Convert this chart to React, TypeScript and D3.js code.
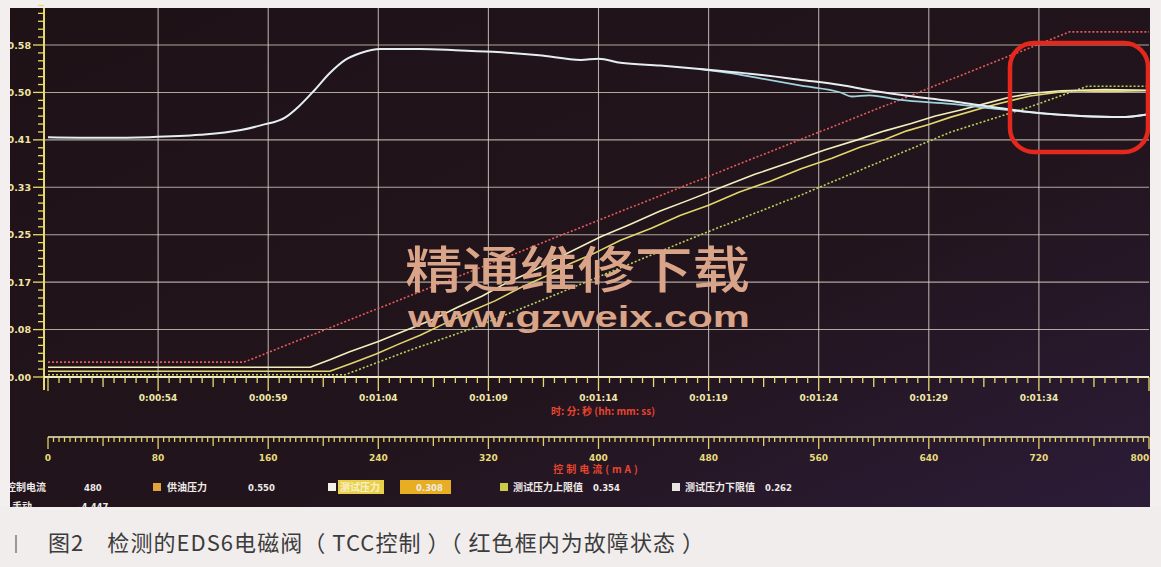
import React from "react";
import * as d3 from "d3";

const W = 1161;
const H = 567;

// Time axis (seconds) and current axis (mA) share the same horizontal span
const timeDomain: [number, number] = [49, 99];
const currentDomain: [number, number] = [0, 800];
const timeTickValues = [54, 59, 64, 69, 74, 79, 84, 89, 94];
const currentTickValues = [0, 80, 160, 240, 320, 400, 480, 560, 640, 720, 800];
const pressureTickValues = [0, 0.0829, 0.1657, 0.2486, 0.3314, 0.4143, 0.4971, 0.58];
const pressureTickLabels = ["0.00", "0.08", "0.17", "0.25", "0.33", "0.41", "0.50", "0.58"];

// [time s, pressure] samples
const supplyPressure: [number, number][] = [
  [49.0, 0.419], [51.5, 0.418], [53.6, 0.419], [55.9, 0.423], [57.7, 0.431],
  [58.7, 0.44], [59.8, 0.454], [60.4, 0.473], [61.1, 0.501], [61.8, 0.531],
  [62.5, 0.554], [63.2, 0.566], [64.1, 0.573], [65.9, 0.573], [67.5, 0.571],
  [69.2, 0.568], [71.3, 0.562], [73.2, 0.554], [74.0, 0.556], [75.0, 0.549],
  [76.8, 0.544], [78.6, 0.538], [81.3, 0.528], [83.2, 0.519], [85.0, 0.51],
  [86.3, 0.501], [87.7, 0.493], [90.0, 0.482], [92.2, 0.47], [94.0, 0.461],
  [95.9, 0.456], [97.7, 0.454], [99.0, 0.459],
];
const supplyPressureB: [number, number][] = [
  [78.6, 0.538], [80.0, 0.531], [81.3, 0.522], [83.2, 0.509], [85.0, 0.497],
  [85.5, 0.49], [86.3, 0.492], [87.7, 0.484], [90.0, 0.477], [92.2, 0.468],
  [94.0, 0.461], [95.9, 0.456], [97.7, 0.454], [99.0, 0.459],
];
const testPressureA: [number, number][] = [
  [49.0, 0.017], [60.9, 0.017], [61.8, 0.03], [62.7, 0.044], [64.0, 0.062],
  [65.4, 0.084], [66.5, 0.101], [67.6, 0.122], [68.7, 0.141], [69.8, 0.164],
  [70.9, 0.183], [72.0, 0.205], [73.0, 0.224], [74.1, 0.245], [75.4, 0.266],
  [76.8, 0.29], [78.1, 0.309], [79.5, 0.33], [81.1, 0.354], [82.7, 0.375],
  [84.3, 0.397], [85.9, 0.416], [87.0, 0.43], [88.2, 0.443], [89.3, 0.456],
  [90.4, 0.466], [91.6, 0.478], [92.7, 0.489], [93.8, 0.496], [95.0, 0.5],
  [97.0, 0.502], [99.0, 0.501],
];
const testPressureB: [number, number][] = [
  [49.0, 0.01], [61.8, 0.01], [62.8, 0.024], [63.9, 0.04], [64.9, 0.057],
  [65.9, 0.073], [67.1, 0.095], [68.2, 0.115], [69.3, 0.133], [70.4, 0.155],
  [71.6, 0.176], [72.7, 0.198], [73.8, 0.216], [75.0, 0.239], [76.4, 0.26],
  [77.7, 0.282], [79.0, 0.3], [80.4, 0.323], [81.8, 0.342], [83.2, 0.364],
  [84.6, 0.382], [85.9, 0.402], [87.0, 0.415], [88.0, 0.43], [89.0, 0.441],
  [90.0, 0.454], [91.8, 0.474], [93.6, 0.491], [95.4, 0.5], [97.0, 0.499],
  [99.0, 0.5],
];
const limitPressure: [number, number][] = [
  [49.0, 0.004], [62.5, 0.004], [65.3, 0.045], [68.2, 0.084], [72.3, 0.148],
  [78.6, 0.248], [83.2, 0.318], [90.0, 0.428], [93.6, 0.472], [96.2, 0.508],
  [99.0, 0.508],
];
const controlCurrent: [number, number][] = [
  [49.0, 0.026], [57.9, 0.026], [95.4, 0.603], [99.0, 0.603],
];

const legendNames = ["控制电流", "供油压力", "测试压力", "测试压力上限值", "测试压力下限值"];
const legendValues = ["480", "0.550", "0.308", "0.354", "0.262"];
const legendSwatches = ["none", "#e2a43a", "#f2f0e6", "#c8cc48", "#e8e6e2"];

const caption = "图2　检测的EDS6电磁阀（ TCC控制 ）（ 红色框内为故障状态 ）";

const x = d3.scaleLinear().domain(timeDomain).range([48, 1149]);
const xmA = d3.scaleLinear().domain(currentDomain).range([48, 1149]);
const y = d3.scaleLinear().domain([0, 0.58]).range([377, 45]);

const line = d3
  .line<[number, number]>()
  .x((d) => x(d[0]))
  .y((d) => y(d[1]));
const smoothLine = d3
  .line<[number, number]>()
  .x((d) => x(d[0]))
  .y((d) => y(d[1]))
  .curve(d3.curveMonotoneX);

const fmtTime = (s: number) => {
  const m = Math.floor(s / 60);
  const ss = Math.round(s % 60);
  return `0:${String(m).padStart(2, "0")}:${String(ss).padStart(2, "0")}`;
};

const tickFont = "'DejaVu Sans', sans-serif";
const cjk = "'Noto Sans CJK SC', sans-serif";

export default function App() {
  const yMinor = d3.range(0, 0.66, 0.58 / 7 / 6);
  const tMinor = d3.range(49, 99.01, 0.5);
  const mAMinor = d3.range(0, 800.1, 4);
  const legendX = [6, 167, 340, 513, 685];
  const swatchX = [0, 153, 328, 500, 672];
  const valueX = [84, 248, 402, 593, 765];

  return (
    <div style={{ position: "absolute", left: 0, top: 0 }}>
      <svg width={W} height={H} viewBox={`0 0 ${W} ${H}`} style={{ display: "block" }}>
        <defs>
          <linearGradient id="bg" x1="0" y1="0" x2="1" y2="1">
            <stop offset="0" stopColor="#1e1217" />
            <stop offset="0.6" stopColor="#22141c" />
            <stop offset="1" stopColor="#2c1c38" />
          </linearGradient>
          <clipPath id="plot">
            <rect x={44} y={8} width={1105} height={372} />
          </clipPath>
        </defs>

        <rect x={0} y={0} width={W} height={H} fill="#f3efee" />
        <rect x={10} y={8} width={1140} height={499} fill="url(#bg)" />

        {/* grid */}
        {pressureTickValues.slice(1).map((v, i) => (
          <line key={`h${i}`} x1={44} x2={1149} y1={y(v)} y2={y(v)} stroke="#d2cdbf" strokeWidth={1.1} opacity={0.8} />
        ))}
        {currentTickValues.slice(1, -1).map((v, i) => (
          <line key={`v${i}`} x1={xmA(v)} x2={xmA(v)} y1={8} y2={377} stroke="#d8d2cc" strokeWidth={1.1} opacity={0.8} />
        ))}

        {/* series */}
        <g clipPath="url(#plot)" fill="none" strokeLinejoin="round">
          <path d={line(controlCurrent) ?? ""} stroke="#e65a5a" strokeWidth={1.6} strokeDasharray="2 2" />
          <path d={line(limitPressure) ?? ""} stroke="#b9d25c" strokeWidth={1.6} strokeDasharray="2 2" />
          <path d={line(testPressureB) ?? ""} stroke="#e3d66e" strokeWidth={1.6} />
          <path d={line(testPressureA) ?? ""} stroke="#f2efbe" strokeWidth={1.6} />
          <path d={smoothLine(supplyPressureB) ?? ""} stroke="#9fd4df" strokeWidth={1.8} />
          <path d={smoothLine(supplyPressure) ?? ""} stroke="#e6eef0" strokeWidth={2} />
        </g>

        {/* pressure ruler */}
        <line x1={44} x2={44} y1={8} y2={390} stroke="#e8da6c" strokeWidth={2} />
        {yMinor.map((v, i) => (
          <line key={`ym${i}`} x1={i % 6 === 0 ? 33 : 38} x2={44} y1={y(v)} y2={y(v)} stroke="#e8da6c" strokeWidth={1.3} />
        ))}
        {pressureTickValues.map((v, i) => (
          <text key={`yl${i}`} x={31} y={y(v) + 3.5} textAnchor="end" fontFamily={tickFont} fontWeight={700} fontSize={9.5} fill="#f0e6a6">
            {pressureTickLabels[i]}
          </text>
        ))}

        {/* time axis */}
        <line x1={44} x2={1149} y1={377} y2={377} stroke="#f2eccc" strokeWidth={2} />
        {tMinor.map((t, i) => {
          const k = Math.round((t - 49) * 2);
          const len = k % 10 === 0 ? 14 : k % 5 === 0 ? 10 : 6;
          return <line key={`tm${i}`} x1={x(t)} x2={x(t)} y1={377} y2={377 + len} stroke="#e8da6c" strokeWidth={1.3} />;
        })}
        {timeTickValues.map((t) => (
          <text key={`tl${t}`} x={x(t)} y={401} textAnchor="middle" fontFamily={tickFont} fontWeight={700} fontSize={9} fill="#f0e8a8">
            {fmtTime(t)}
          </text>
        ))}
        <text x={603} y={415} textAnchor="middle" fontFamily={cjk} fontWeight={700} fontSize={10} fill="#e8452e">
          时: 分: 秒 (hh: mm: ss)
        </text>

        {/* current ruler */}
        <line x1={48} x2={1149} y1={437} y2={437} stroke="#f0ecc8" strokeWidth={1.6} />
        {mAMinor.map((v, i) => {
          const len = i % 20 === 0 ? 12 : i % 10 === 0 ? 9 : 5;
          return <line key={`cm${i}`} x1={xmA(v)} x2={xmA(v)} y1={437} y2={437 + len} stroke="#e4d25c" strokeWidth={1.3} />;
        })}
        {currentTickValues.map((v) => (
          <text key={`cl${v}`} x={Math.min(xmA(v), 1140)} y={461} textAnchor="middle" fontFamily={tickFont} fontWeight={700} fontSize={9} fill="#e8dc7a">
            {v}
          </text>
        ))}
        <text x={597} y={473} textAnchor="middle" fontFamily={cjk} fontWeight={700} fontSize={10} fill="#e8452e" letterSpacing={3}>
          控制电流(mA)
        </text>

        {/* legend */}
        {legendNames.map((name, i) => (
          <g key={`lg${i}`} fontFamily={cjk} fontWeight={700} fontSize={10}>
            {i > 0 && <rect x={swatchX[i]} y={483} width={8} height={8} fill={legendSwatches[i]} />}
            {i === 2 && <rect x={338} y={480} width={46} height={14} fill="#ead04a" />}
            {i === 2 && <rect x={400} y={480} width={51} height={14} fill="#e7ae24" />}
            <text x={legendX[i]} y={491} fill={i === 2 ? "#f8f0c8" : "#eeeae8"}>{name}</text>
            <text x={valueX[i] + (i === 2 ? 14 : 0)} y={491} fontFamily={tickFont} fontSize={8.5} fill="#eeeae8">{legendValues[i]}</text>
          </g>
        ))}
        <text x={12} y={510} fontFamily={cjk} fontWeight={700} fontSize={10} fill="#eeeae8">手动</text>
        <text x={78} y={510} fontFamily={tickFont} fontWeight={700} fontSize={8.5} fill="#eeeae8">-4.447</text>

        {/* watermark */}
        <text x={405} y={288} fontFamily={cjk} fontWeight={500} fontSize={50} textLength={345} lengthAdjust="spacingAndGlyphs" fill="#d9a487">
          精通维修下载
        </text>
        <text x={408} y={327} fontFamily="'Liberation Sans', Arial, sans-serif" fontWeight={700} fontSize={29} textLength={342} lengthAdjust="spacingAndGlyphs" fill="#d9a487">
          www.gzweix.com
        </text>

        {/* fault region */}
        <rect x={1010} y={43} width={138} height={109} rx={24} fill="none" stroke="#e5281e" strokeWidth={4.5} />

        {/* paper edges */}
        <rect x={0} y={0} width={10} height={507} fill="#f3efee" />
        <rect x={0} y={507} width={W} height={H - 507} fill="#f1eded" />
        <rect x={1150} y={0} width={11} height={507} fill="#f3efee" />
        <rect x={15} y={535} width={2} height={18} fill="#9a9898" />
        <text x={48} y={551} fontFamily={cjk} fontSize={22} fill="#3c3c3c" textLength={656} lengthAdjust="spacing">
          {caption}
        </text>
      </svg>
    </div>
  );
}
